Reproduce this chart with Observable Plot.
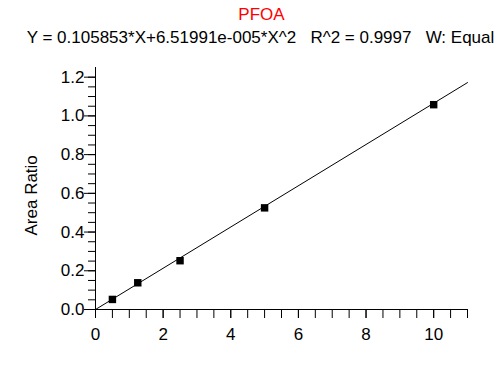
<!DOCTYPE html>
<html>
<head>
<meta charset="utf-8">
<script src="https://cdn.jsdelivr.net/npm/d3@7"></script>
<script src="https://cdn.jsdelivr.net/npm/@observablehq/plot@0.6"></script>
<style>
  html, body { margin: 0; padding: 0; background: #fff; }
  svg { display: block; }
</style>
</head>
<body>
<div id="chart"></div>
<script>
// Data
const concentrations = [0.5, 1.25, 2.5, 5, 10];
const areaRatios = [0.052, 0.138, 0.252, 0.525, 1.058];
// Calibration curve end points (as drawn)
const fitX = [0, 11];
const fitY = [0, 1.172];
// Ticks
const xMinorTicks = [0, 0.5, 1, 1.5, 2, 2.5, 3, 3.5, 4, 4.5, 5, 5.5, 6, 6.5, 7, 7.5, 8, 8.5, 9, 9.5, 10, 10.5, 11];
const xLabelTicks = [0, 2, 4, 6, 8, 10];
const yMinorTicks = [0, 0.05, 0.1, 0.15, 0.2, 0.25, 0.3, 0.35, 0.4, 0.45, 0.5, 0.55, 0.6, 0.65, 0.7, 0.75, 0.8, 0.85, 0.9, 0.95, 1.0, 1.05, 1.1, 1.15, 1.2];
const yLabelTicks = [0, 0.2, 0.4, 0.6, 0.8, 1.0, 1.2];
// Texts
const titleText = "PFOA";
const equationText = "Y = 0.105853*X+6.51991e-005*X^2\u00a0\u00a0\u00a0R^2 = 0.9997\u00a0\u00a0\u00a0W: Equal";
const yLabel = "Area Ratio";

const points = concentrations.map((x, i) => ({x, y: areaRatios[i]}));
const fit = fitX.map((x, i) => ({x, y: fitY[i]}));

const font = "Liberation Sans, Arial, Helvetica, sans-serif";

const chart = Plot.plot({
  width: 501,
  height: 368,
  marginLeft: 95,
  marginRight: 34,
  marginTop: 67,
  marginBottom: 59,
  style: {fontFamily: font, fontSize: "17px", background: "#fff", color: "#000"},
  x: {domain: [0, 11]},
  y: {domain: [0, 1.25]},
  marks: [
    Plot.axisX({ticks: xMinorTicks, tickSize: 9, tickFormat: () => "", label: null, stroke: "#000"}),
    Plot.axisX({ticks: xLabelTicks, tickSize: 9, tickPadding: 9, tickFormat: d3.format("d"), label: null, fontSize: 17, fill: "#000", stroke: "#000"}),
    Plot.axisY({ticks: yMinorTicks, tickSize: 7, tickFormat: () => "", label: null, stroke: "#000"}),
    Plot.axisY({ticks: yLabelTicks, tickSize: 11, tickPadding: 0, tickFormat: d3.format(".1f"), label: null, fontSize: 17, fill: "#000", stroke: "#000"}),
    Plot.ruleY([0], {stroke: "#000"}),
    Plot.ruleX([0], {stroke: "#000"}),
    Plot.line(fit, {x: "x", y: "y", stroke: "#000", strokeWidth: 1}),
    Plot.dot(points, {x: "x", y: "y", symbol: "square", r: 4.2, fill: "#000", stroke: null}),
    Plot.text([titleText], {frameAnchor: "top", lineAnchor: "bottom", dx: -20, dy: -48, fill: "#ff0000", fontSize: 17}),
    Plot.text([equationText], {frameAnchor: "top", lineAnchor: "bottom", dx: -21, dy: -25, fill: "#000", fontSize: 17}),
    Plot.text([yLabel], {frameAnchor: "left", rotate: -90, dx: -64, dy: 47, fill: "#000", fontSize: 17})
  ]
});

document.getElementById("chart").appendChild(chart);
</script>
</body>
</html>
